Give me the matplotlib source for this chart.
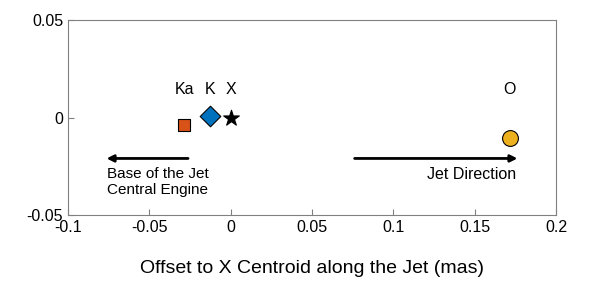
import numpy as np
import matplotlib
matplotlib.use("Agg")
from matplotlib import pyplot as plt

plt.rcParams['font.family'] = ['Liberation Sans', 'DejaVu Sans']

# band positions (offset along jet, perpendicular offset), mas
bands = ["Ka", "K", "X", "O"]
x_off = [-0.0285, -0.0127, 0.0, 0.1716]
y_off = [-0.0038, 0.0008, -0.0005, -0.0105]
colors = ["#d95319", "#0072bd", "black", "#edb120"]
markers = ["s", "D", "*", "o"]
sizes = [75, 110, 140, 130]
label_y = 0.0145

fig = plt.figure(figsize=(5.9, 2.89), dpi=100)
ax = fig.add_axes([68 / 590, 74 / 289, 488 / 590, 195 / 289])

for b, x, y, c, m, s in zip(bands, x_off, y_off, colors, markers, sizes):
    ax.scatter(x, y, marker=m, s=s, c=c, edgecolors="black", linewidths=0.8, zorder=3)
    ax.text(x, label_y, b, ha="center", va="center", fontsize=11.5)

# direction arrows
ax.annotate("", xy=(-0.078, -0.021), xytext=(-0.0245, -0.021),
            arrowprops=dict(arrowstyle="-|>", color="black", lw=2, mutation_scale=10))
ax.annotate("", xy=(0.178, -0.021), xytext=(0.0745, -0.021),
            arrowprops=dict(arrowstyle="-|>", color="black", lw=2, mutation_scale=10))
ax.text(-0.076, -0.0255, "Base of the Jet\nCentral Engine", ha="left", va="top",
        fontsize=11, linespacing=1.2)
ax.text(0.1755, -0.0255, "Jet Direction", ha="right", va="top", fontsize=11.5)

ax.set_xlim(-0.1, 0.2)
ax.set_ylim(-0.05, 0.05)
ax.set_xticks([-0.1, -0.05, 0, 0.05, 0.1, 0.15, 0.2])
ax.set_xticklabels(["-0.1", "-0.05", "0", "0.05", "0.1", "0.15", "0.2"])
ax.set_yticks([-0.05, 0, 0.05])
ax.set_yticklabels(["-0.05", "0", "0.05"])
ax.tick_params(direction="in", length=4, labelsize=11.5, color="#808080")
for sp in ax.spines.values():
    sp.set_color("#808080")
    sp.set_linewidth(0.8)
ax.set_xlabel("Offset to X Centroid along the Jet (mas)", fontsize=14, labelpad=18)

fig.savefig("out.png", dpi=100)
